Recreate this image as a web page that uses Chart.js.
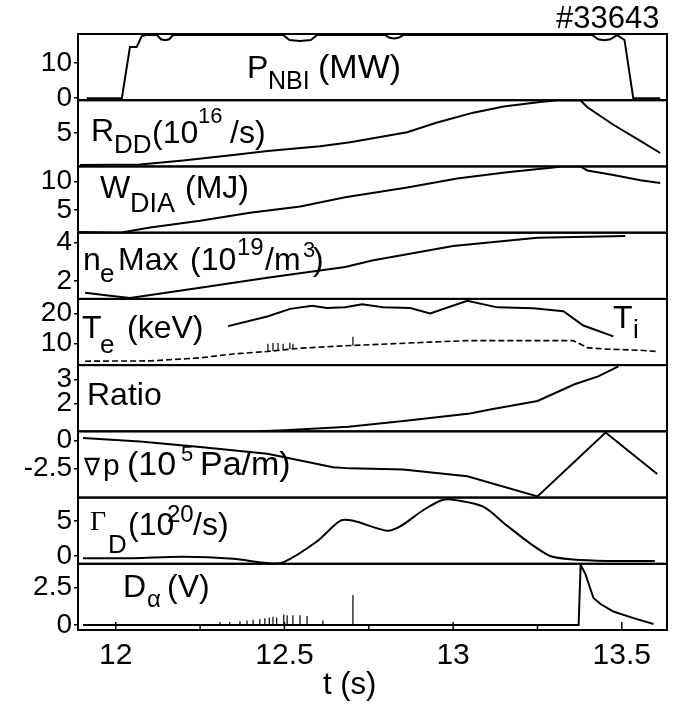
<!DOCTYPE html>
<html>
<head>
<meta charset="utf-8">
<title>#33643</title>
<script src="https://cdn.jsdelivr.net/npm/chart.js@4.4.1/dist/chart.umd.min.js"></script>
<style>
  html, body { margin: 0; padding: 0; background: #fff; }
  canvas { display: block; }
</style>
</head>
<body>
<canvas id="shot" width="691" height="704"></canvas>
<script>
// Shot #33643 — time traces, t in seconds

// NBI power (MW)
const pnbiT = [11.914, 12.018, 12.042, 12.062, 12.077, 12.092, 12.122, 12.134, 12.146, 12.158, 12.170,
  12.496, 12.515, 12.546, 12.578, 12.597, 12.798, 12.812, 12.825, 12.838, 12.852,
  13.412, 13.430, 13.448, 13.466, 13.486, 13.508, 13.534, 13.614];
const pnbiV = [0, 0, 14.6, 14.6, 17.7, 18, 18, 16.8, 16.5, 16.8, 18,
  18, 16.6, 16.3, 16.6, 18, 18, 17.2, 17.0, 17.2, 18,
  18, 16.8, 16.5, 16.8, 18, 16.6, 0, 0];

// DD neutron rate (1e16/s)
const rddT = [11.894, 12.072, 12.2, 12.348, 12.45, 12.606, 12.695, 12.864, 12.95, 13.06, 13.15, 13.258, 13.31, 13.377, 13.398, 13.475, 13.555, 13.614];
const rddV = [0.2, 0.3, 0.9, 1.7, 2.3, 3.0, 3.6, 5.1, 6.5, 8.0, 8.9, 9.6, 9.85, 9.85, 8.8, 6.2, 3.8, 2.0];

// diamagnetic stored energy (MJ)
const wdiaT = [11.888, 12.013, 12.102, 12.25, 12.398, 12.547, 12.68, 12.864, 13.012, 13.16, 13.297, 13.318, 13.377, 13.398, 13.475, 13.555, 13.614];
const wdiaV = [1.1, 1.0, 1.9, 3.1, 4.5, 5.6, 7.2, 8.9, 10.5, 11.6, 12.4, 12.6, 12.6, 11.9, 11.1, 10.2, 9.7];

// peak electron density (1e19/m3)
const neT = [11.909, 11.983, 12.042, 12.25, 12.449, 12.68, 12.76, 13.0, 13.25, 13.51];
const neV = [1.38, 1.22, 1.11, 1.64, 2.16, 2.72, 3.05, 3.81, 4.23, 4.33];

// ion temperature (keV), solid
const tiT = [12.333, 12.449, 12.517, 12.582, 12.626, 12.68, 12.73, 12.792, 12.873, 12.932, 13.042, 13.131, 13.238, 13.327, 13.386, 13.475];
const tiV = [15.8, 19.0, 21.5, 22.5, 21.8, 22.0, 23.0, 22.0, 21.8, 20.0, 24.2, 22.0, 21.7, 20.7, 16.0, 12.4];

// electron temperature (keV), dashed
const teT = [11.909, 12.102, 12.25, 12.348, 12.449, 12.547, 12.68, 12.932, 13.042, 13.356, 13.4, 13.456, 13.555, 13.605];
const teV = [4.2, 4.3, 5.3, 6.6, 7.4, 8.5, 9.3, 10.5, 11.0, 11.0, 8.6, 8.2, 7.8, 7.4];
const teSpikeT = [12.451, 12.466, 12.481, 12.496, 12.516, 12.525, 12.703];
const teSpikeLo = [7.4, 7.6, 7.8, 8.0, 8.2, 8.3, 9.3];
const teSpikeHi = [10.0, 10.2, 10.2, 10.0, 10.3, 10.0, 12.3];

// Ti/Te ratio
const ratioT = [12.42, 12.5, 12.69, 12.86, 13.05, 13.11, 13.25, 13.36, 13.43, 13.49];
const ratioV = [0.83, 0.88, 1.02, 1.27, 1.58, 1.74, 2.1, 2.8, 3.13, 3.55];

// pressure gradient (1e5 Pa/m)
const gradpT = [11.903, 12.072, 12.25, 12.449, 12.547, 12.644, 12.695, 12.852, 13.042, 13.25, 13.452, 13.605];
const gradpV = [0.2, -0.1, -0.6, -1.2, -1.8, -2.4, -2.5, -2.6, -3.2, -5.0, 0.7, -3.0];

// deuterium gas flux (1e20/s)
const gammaT = [11.903, 12.051, 12.2, 12.348, 12.449, 12.496, 12.597, 12.665, 12.704, 12.804, 12.843, 12.911, 12.97, 13.012, 13.089, 13.16, 13.228, 13.288, 13.356, 13.456, 13.598];
const gammaV = [-0.3, -0.3, -0.1, -0.4, -1.0, -0.9, 2.1, 5.0, 5.0, 3.6, 4.2, 6.5, 8.0, 7.9, 7.0, 4.3, 1.8, 0.0, -0.5, -0.7, -0.7];

// D-alpha emission (V)
const dalphaT = [11.903, 12.25, 12.6, 13.0, 13.372, 13.378, 13.392, 13.407, 13.416, 13.437, 13.475, 13.535, 13.594];
const dalphaV = [0, 0, 0, 0, 0, 4.0, 3.4, 2.4, 1.8, 1.4, 0.9, 0.46, 0.07];
const dalphaSpikeT = [12.309, 12.338, 12.368, 12.389, 12.407, 12.427, 12.442, 12.455, 12.466, 12.477, 12.498, 12.508, 12.525, 12.546, 12.567, 12.614, 12.703];
const dalphaSpikeH = [0.2, 0.2, 0.25, 0.3, 0.35, 0.4, 0.45, 0.5, 0.55, 0.5, 0.7, 0.65, 0.65, 0.65, 0.6, 0.3, 2.0];

// axis ticks
const timeTicks = [12, 12.5, 13, 13.5];
const timeTickMarks = [12, 12.25, 12.5, 12.75, 13, 13.25, 13.5];
const pnbiTicks = [0, 10];
const rddTicks = [5];
const wdiaTicks = [5, 10];
const neTicks = [2, 4];
const tempTicks = [10, 20];
const ratioTicks = [2, 3];
const gradpTicks = [-2.5, 0];
const gammaTicks = [0, 5];
const dalphaTicks = [0, 2.5];

// panels from top to bottom
const panels = [
  { id: 'pnbi', min: -0.57, max: 18.3, ticks: pnbiTicks },
  { id: 'rdd', min: 0, max: 9.85, ticks: rddTicks },
  { id: 'wdia', min: 1.0, max: 12.6, ticks: wdiaTicks },
  { id: 'ne', min: 1.06, max: 4.5, ticks: neTicks },
  { id: 'temp', min: 2.9, max: 24.8, ticks: tempTicks },
  { id: 'ratio', min: 0.83, max: 3.6, ticks: ratioTicks },
  { id: 'gradp', min: -5.1, max: 0.8, ticks: gradpTicks },
  { id: 'gamma', min: -1.1, max: 8.3, ticks: gammaTicks },
  { id: 'dalpha', min: -0.33, max: 4.08, ticks: dalphaTicks }
];

const SANS = '"Liberation Sans", Arial, Helvetica, sans-serif';
const SERIF = '"Liberation Serif", "Times New Roman", serif';
const SYMBOL = '"DejaVu Sans", sans-serif';

// text pieces: [text, x, baseline, size, family]
const labelPieces = [
  ['P', 247, 78, 32], ['NBI', 268, 89, 25], ['(MW)', 318, 78, 34],
  ['R', 91, 141, 32], ['DD', 114, 153, 26], ['(10', 152, 143, 32], ['16', 198, 123, 22], ['/s)', 230, 143, 32],
  ['W', 100, 198, 32], ['DIA', 130, 212, 27], ['(MJ)', 185, 198, 32],
  ['n', 83, 270, 32], ['e', 100, 282, 26], ['Max', 118, 270, 32], ['(10', 190, 270, 32], ['19', 237, 255, 24],
  ['/m', 265, 270, 32], ['3', 303, 257, 22], [')', 313, 270, 32],
  ['T', 82, 338, 32], ['e', 100, 353, 26], ['(keV)', 127, 338, 32],
  ['T', 613, 328, 32], ['i', 633, 338, 26],
  ['Ratio', 87, 405, 32],
  ['\u2207', 84, 475, 24, SYMBOL], ['p', 103, 475, 30], ['(10', 127, 475, 34], ['5', 181, 461, 22], ['Pa/m)', 200, 475, 34],
  ['\u0393', 90, 530, 28, SERIF], ['D', 108, 553, 26], ['(10', 128, 535, 32], ['20', 167, 522, 24], ['/s)', 193, 535, 32],
  ['D', 123, 597, 32], ['\u03b1', 147, 607, 24], ['(V)', 167, 597, 32],
  ['#33643', 556, 28, 31],
  ['t (s)', 323, 694, 31]
];

function pts(ts, vs) {
  return ts.map((t, i) => ({ x: t, y: vs[i] }));
}

// vertical spikes, each as its own segment separated by a gap
function spikes(ts, lo, hi) {
  const out = [];
  ts.forEach((t, i) => {
    out.push({ x: t, y: lo[i] }, { x: t, y: hi[i] }, { x: t, y: null });
  });
  return out;
}

function trace(axis, data, extra) {
  return Object.assign({
    data: data,
    yAxisID: axis,
    borderColor: '#000',
    borderWidth: 2,
    pointRadius: 0,
    tension: 0,
    fill: false,
    spanGaps: false
  }, extra || {});
}

const datasets = [
  trace('pnbi', pts(pnbiT, pnbiV)),
  trace('rdd', pts(rddT, rddV)),
  trace('wdia', pts(wdiaT, wdiaV)),
  trace('ne', pts(neT, neV)),
  trace('temp', pts(tiT, tiV)),
  trace('temp', pts(teT, teV), { borderWidth: 1.6, borderDash: [6, 3] }),
  trace('temp', spikes(teSpikeT, teSpikeLo, teSpikeHi), { borderWidth: 1.2 }),
  trace('ratio', pts(ratioT, ratioV)),
  trace('gradp', pts(gradpT, gradpV)),
  trace('gamma', pts(gammaT, gammaV), { tension: 0.3 }),
  trace('dalpha', pts(dalphaT, dalphaV)),
  trace('dalpha', spikes(dalphaSpikeT, dalphaSpikeT.map(() => 0), dalphaSpikeH), { borderWidth: 1.2 })
];

const scales = {
  x: {
    type: 'linear',
    position: 'bottom',
    min: 11.888,
    max: 13.634,
    afterBuildTicks: s => { s.ticks = timeTicks.map(v => ({ value: v })); },
    afterFit: s => { s.height = 74; },
    grid: { display: false },
    border: { display: false },
    ticks: {
      padding: 0,
      maxRotation: 0,
      color: '#000',
      font: { family: SANS, size: 30 },
      callback: v => String(v)
    }
  }
};

panels.forEach((p, i) => {
  scales[p.id] = {
    type: 'linear',
    position: 'left',
    stack: 'panels',
    stackWeight: 1,
    weight: panels.length - i,
    offset: false,
    min: p.min,
    max: p.max,
    afterBuildTicks: s => { s.ticks = p.ticks.map(v => ({ value: v })); },
    afterFit: s => { s.width = 78; },
    grid: { display: true, drawOnChartArea: false, drawTicks: true, tickLength: 4, color: '#000', lineWidth: 1.5 },
    border: { display: false },
    ticks: {
      padding: 2,
      color: '#000',
      font: { family: SANS, size: 28 },
      callback: v => String(v)
    }
  };
});

const panelFrames = {
  id: 'panelFrames',
  afterDatasetsDraw(chart) {
    const { ctx, chartArea: a, scales: sc } = chart;
    ctx.save();
    ctx.strokeStyle = '#000';
    ctx.lineWidth = 2;
    panels.forEach(p => {
      const s = sc[p.id];
      ctx.strokeRect(a.left, s.top, a.right - a.left, s.bottom - s.top);
    });
    // inward time tick marks on the bottom edge
    ctx.lineWidth = 1.5;
    timeTickMarks.forEach(t => {
      const px = sc.x.getPixelForValue(t);
      const len = Number.isInteger(t * 2) ? 8 : 6;
      ctx.beginPath();
      ctx.moveTo(px, a.bottom);
      ctx.lineTo(px, a.bottom - len);
      ctx.stroke();
    });
    ctx.restore();
  },
  afterDraw(chart) {
    const ctx = chart.ctx;
    ctx.save();
    ctx.fillStyle = '#000';
    ctx.textAlign = 'left';
    ctx.textBaseline = 'alphabetic';
    labelPieces.forEach(([text, x, y, size, family]) => {
      ctx.font = size + 'px ' + (family || SANS);
      ctx.fillText(text, x, y);
    });
    ctx.restore();
  }
};

new Chart(document.getElementById('shot'), {
  type: 'line',
  data: { datasets: datasets },
  options: {
    responsive: false,
    animation: false,
    devicePixelRatio: 1,
    layout: { padding: { top: 34, right: 24, bottom: 0, left: 0 } },
    plugins: {
      legend: { display: false },
      tooltip: { enabled: false },
      title: { display: false }
    },
    scales: scales
  },
  plugins: [panelFrames]
});
</script>
</body>
</html>
